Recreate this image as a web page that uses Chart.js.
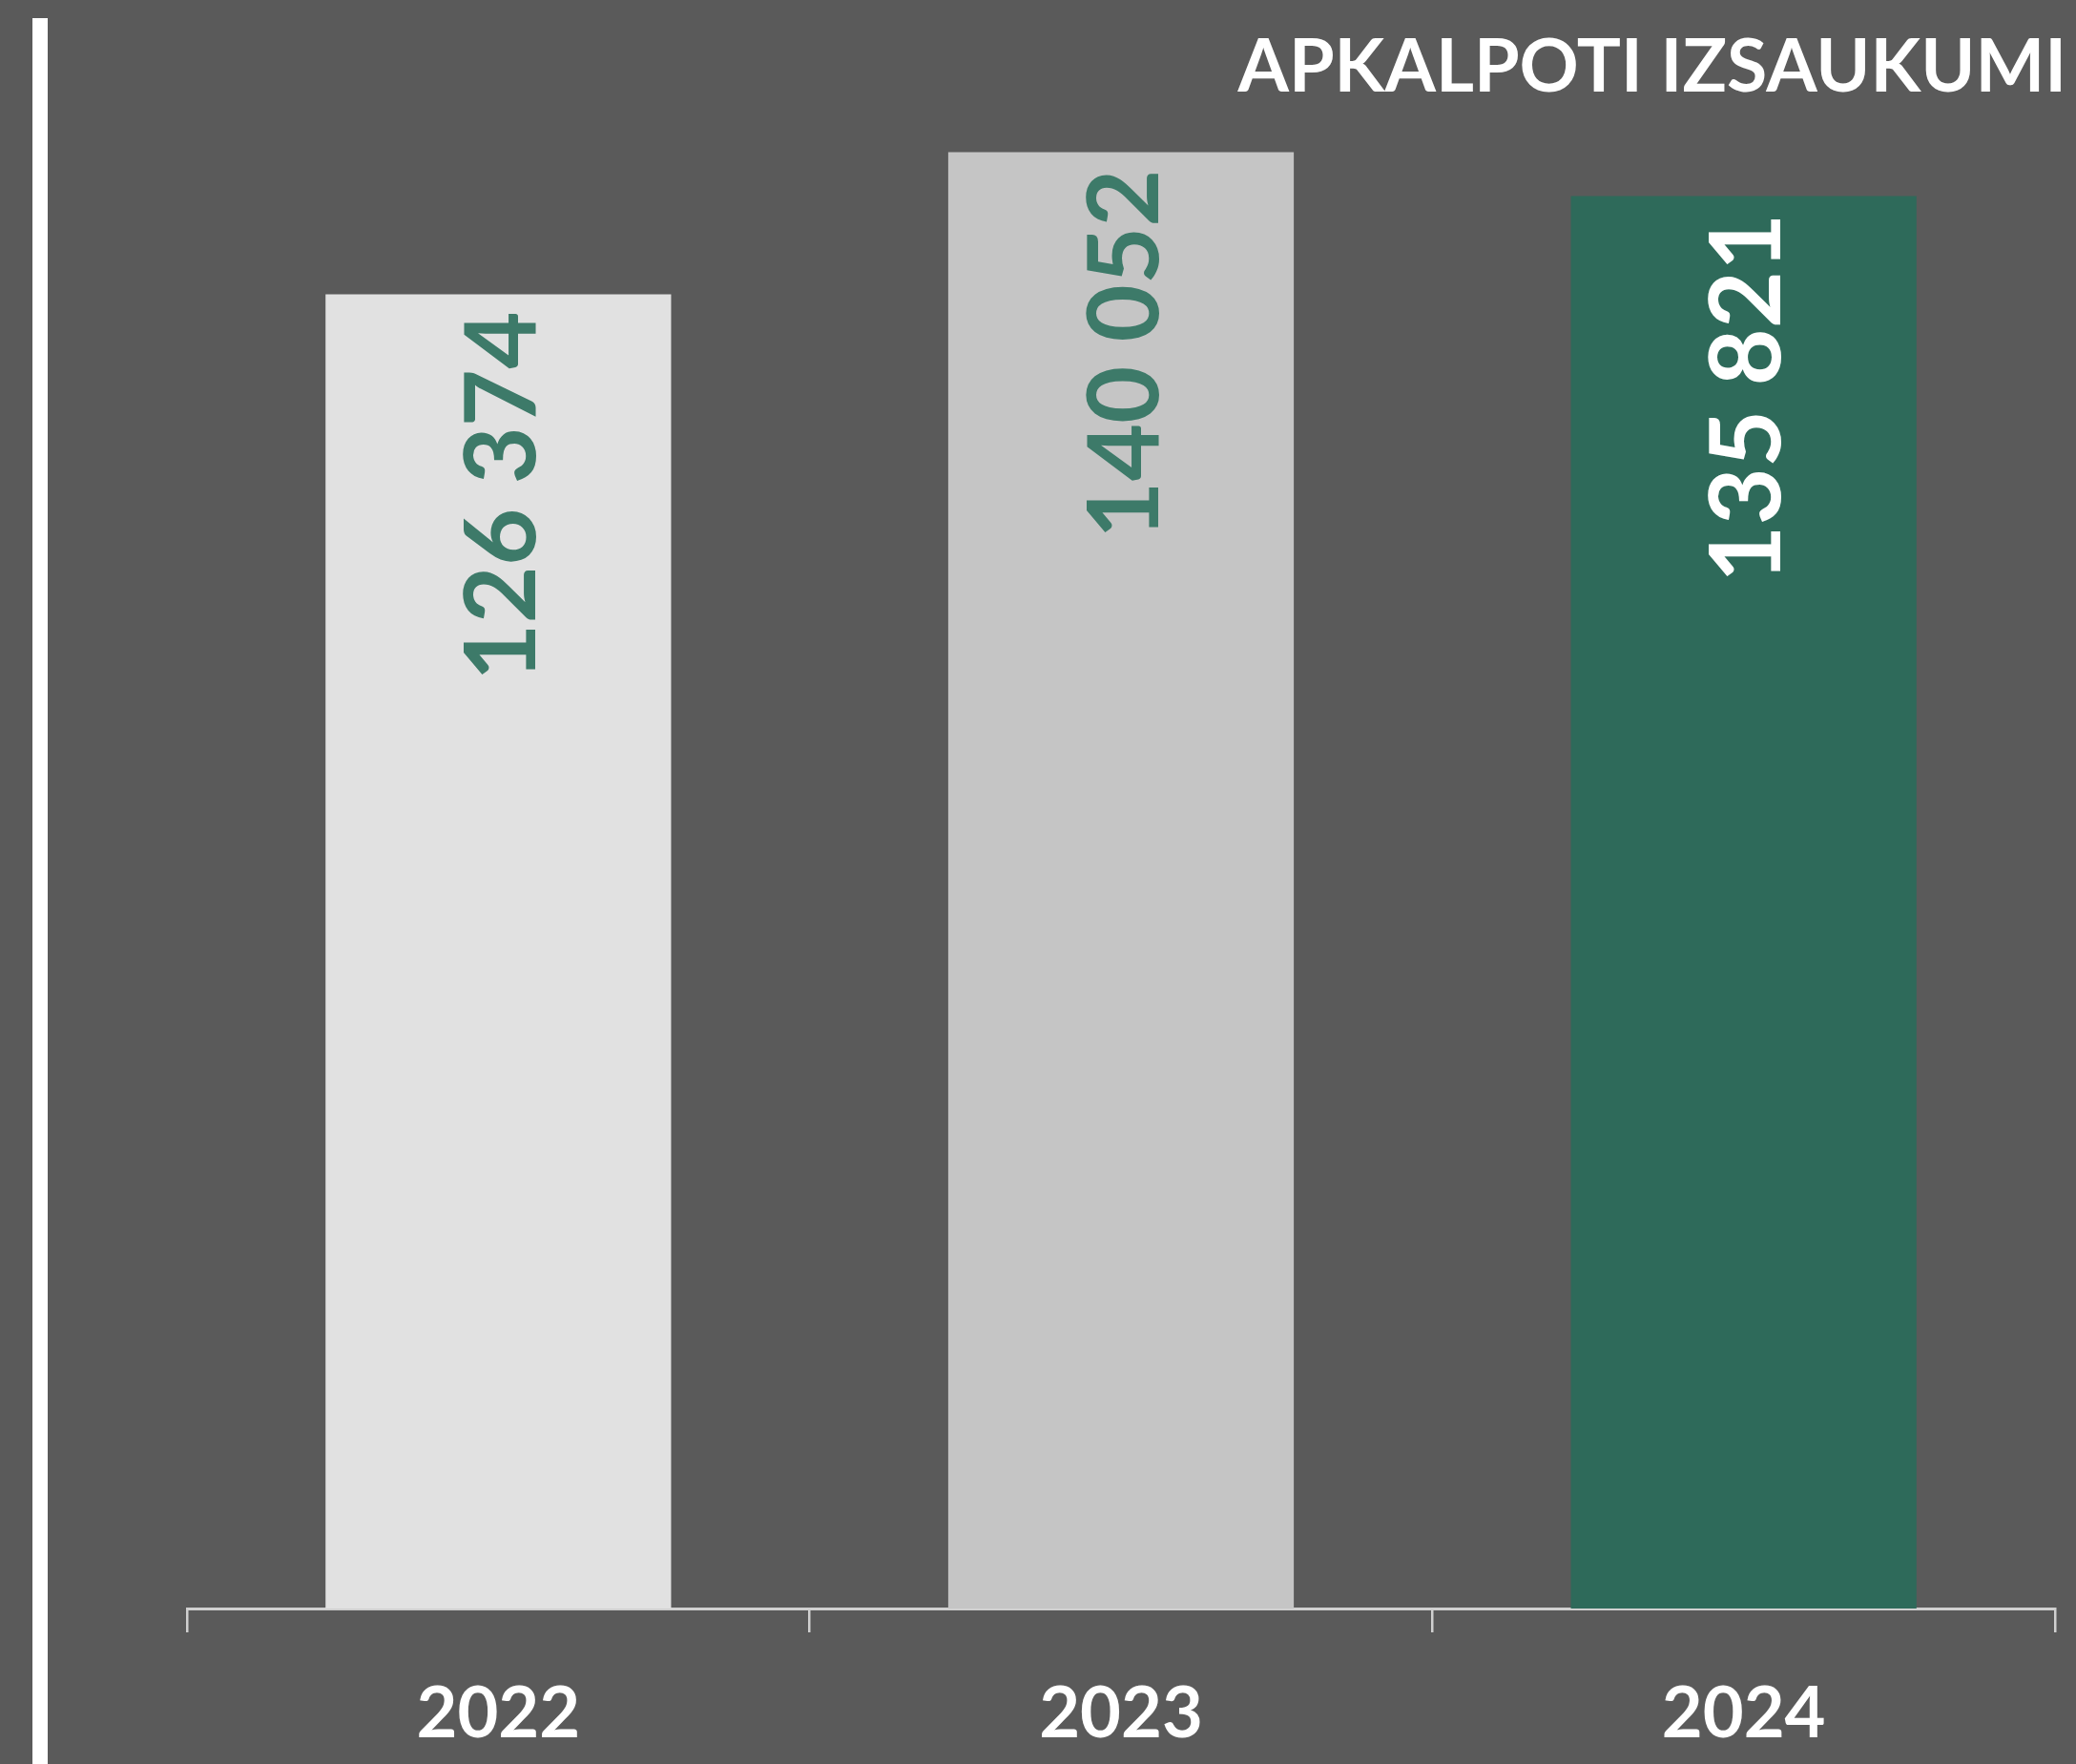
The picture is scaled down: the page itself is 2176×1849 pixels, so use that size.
<!DOCTYPE html>
<html>
<head>
<meta charset="utf-8">
<script src="https://cdn.jsdelivr.net/npm/chart.js@4.4.1/dist/chart.umd.min.js"></script>
<style>
  html, body { margin: 0; padding: 0; background: #5a5a5a; }
  #wrap { width: 2176px; height: 1849px; position: relative; }
</style>
</head>
<body>
<div id="wrap"><canvas id="c" width="2176" height="1849"></canvas></div>
<script>
const categories = ['2022', '2023', '2024'];
const seriesValues = [126374, 140052, 135821];
const barColors = ['#e1e1e1', '#c5c5c5', '#2e6a5a'];
const labelColors = ['#3d7a69', '#3d7a69', '#ffffff'];
const chartTitle = 'APKALPOTI IZSAUKUMI';

function fmt(v) {
  return String(v).replace(/\B(?=(\d{3})+(?!\d))/g, ' ');
}

const decorPlugin = {
  id: 'decor',
  beforeDraw(chart) {
    const ctx = chart.ctx;
    ctx.save();
    ctx.fillStyle = '#5a5a5a';
    ctx.fillRect(0, 0, chart.width, chart.height);
    ctx.fillStyle = '#ffffff';
    ctx.fillRect(34, 19, 16, chart.height - 19);
    ctx.restore();
  },
  afterDatasetsDraw(chart) {
    const ctx = chart.ctx;
    const meta = chart.getDatasetMeta(0);
    ctx.save();
    ctx.font = 'bold 104px Lato';
    ctx.textAlign = 'right';
    ctx.textBaseline = 'middle';
    meta.data.forEach((bar, i) => {
      ctx.save();
      ctx.translate(bar.x + 5, bar.y + 18);
      ctx.rotate(-Math.PI / 2);
      ctx.fillStyle = labelColors[i];
      ctx.fillText(fmt(seriesValues[i]), 0, 0);
      ctx.restore();
    });
    ctx.restore();
  },
  afterDraw(chart) {
    const ctx = chart.ctx;
    ctx.save();
    ctx.font = 'bold 77px Lato';
    ctx.fillStyle = '#ffffff';
    ctx.textAlign = 'right';
    ctx.textBaseline = 'middle';
    ctx.fillText(chartTitle, 2166, 71);
    ctx.restore();
  }
};

new Chart(document.getElementById('c'), {
  type: 'bar',
  data: {
    labels: categories,
    datasets: [{
      data: seriesValues,
      backgroundColor: barColors,
      borderWidth: 0,
      categoryPercentage: 0.555,
      barPercentage: 1.0
    }]
  },
  options: {
    responsive: false,
    animation: false,
    devicePixelRatio: 1,
    layout: { padding: { top: 51, left: 196, right: 22, bottom: 0 } },
    plugins: {
      legend: { display: false },
      tooltip: { enabled: false },
      title: { display: false }
    },
    scales: {
      y: {
        display: false,
        min: 0,
        max: 150000
      },
      x: {
        afterFit(scale) { scale.height = 163; },
        border: { display: true, color: '#d0d0d0', width: 3 },
        grid: {
          display: true,
          offset: true,
          drawOnChartArea: false,
          drawTicks: true,
          tickLength: 25,
          color: '#d0d0d0',
          lineWidth: 2.5
        },
        ticks: {
          color: '#ffffff',
          padding: 42,
          font: { family: 'Lato', weight: 'bold', size: 74 }
        }
      }
    }
  },
  plugins: [decorPlugin]
});
</script>
</body>
</html>
